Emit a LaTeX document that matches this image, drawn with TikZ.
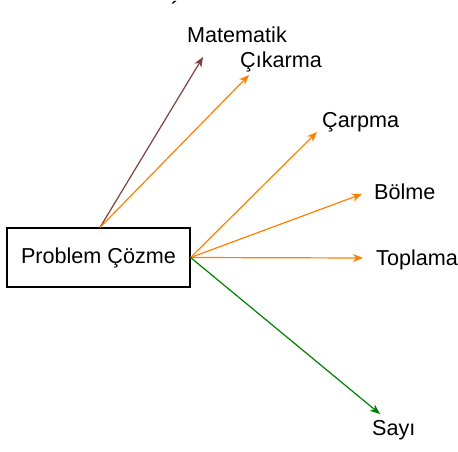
\documentclass[tikz,border=0pt]{standalone}
\usepackage{fontspec}
\setmainfont{Liberation Sans}
\usetikzlibrary{arrows.meta}
\definecolor{brownline}{RGB}{128,64,64}
\definecolor{orangeline}{RGB}{255,128,0}
\definecolor{greenline}{RGB}{0,128,0}
\tikzset{
  mainbox/.style={
    draw=black,
    line width=1.2pt,
    minimum width=183pt,
    minimum height=59pt,
    inner sep=0pt,
    font=\fontsize{21.6}{25}\selectfont
  },
  label/.style={anchor=base west, inner sep=0pt, font=\fontsize{21.6}{25}\selectfont},
  link/.style={-{Stealth[length=10pt,width=8pt,inset=3pt]}, line width=1.2pt}
}
\begin{document}
\begin{tikzpicture}[x=1pt,y=-1pt]
        \useasboundingbox (0,0) rectangle (458,452);
        \node[mainbox] (pc) at (98.5,257.5) {Problem Çözme};
        % texts
        \node[inner sep=0pt, font=\bfseries\fontsize{18}{18}\selectfont] (tick) at (174,8) {´};
        \node[label] (mat) at (187,43) {Matematik};
        \node[label] (cik) at (240,68) {Çıkarma};
        \node[label] (car) at (322,127) {Çarpma};
        \node[label] (bol) at (374,199) {Bölme};
        \node[label] (top) at (376,265) {Toplama};
        \node[label] (say) at (372,435) {Sayı};
        % arrow ends
        \coordinate (matend) at (203,57);
        \coordinate (cikend) at (249,75);
        \coordinate (carend) at (317,132);
        \coordinate (bolend) at (362,194);
        \coordinate (topend) at (363,258);
        \coordinate (sayend) at (380,414);
        \draw[link, brownline] ([xshift=1.5pt]pc.north) -- (matend);
        \draw[link, orangeline] ([xshift=1.5pt]pc.north) -- (cikend);
        \draw[link, orangeline] (pc.east) -- (carend);
        \draw[link, orangeline] (pc.east) -- (bolend);
        \draw[link, orangeline] (pc.east) -- (topend);
        \draw[link, greenline] (pc.east) -- (sayend);
      \end{tikzpicture}
\end{document}
